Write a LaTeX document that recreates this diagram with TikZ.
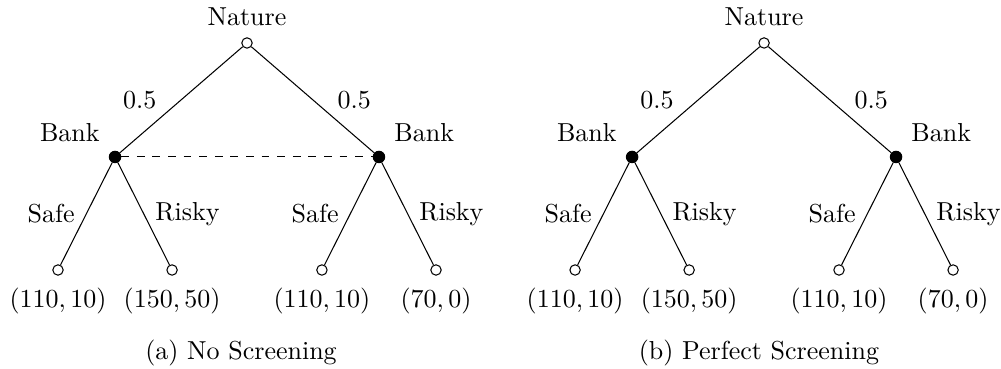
\documentclass[tikz,border=0pt]{standalone}

\tikzset{
  chancenode/.style={circle, draw, fill=white, inner sep=0pt, minimum size=4pt},
  banknode/.style={circle, draw, fill=black, inner sep=0pt, minimum size=4.4pt},
}

\begin{document}
\begin{tikzpicture}[label distance=1pt]
\useasboundingbox (0,0) rectangle (13.532,-4.988);

% (a) no screening
\node[chancenode, label=above:Nature] (na) at (3.339,-0.581) {};
\node[banknode, label=above left:Bank] (ba1) at (1.555,-2.122) {};
\node[banknode, label=above right:Bank] (ba2) at (5.123,-2.122) {};
\node[chancenode, label={below:$(110,10)$}] (la1) at (0.784,-3.650) {};
\node[chancenode, label={below:$(150,50)$}] (la2) at (2.326,-3.650) {};
\node[chancenode, label={below:$(110,10)$}] (la3) at (4.352,-3.650) {};
\node[chancenode, label={below:$(70,0)$}] (la4) at (5.894,-3.650) {};

\draw (na) -- node[left=6pt] (pa1) {0.5} (ba1);
\draw (na) -- node[right=6pt] (pa2) {0.5} (ba2);
\draw (ba1) -- node[left=1pt] (sa1) {Safe} (la1);
\draw (ba1) -- node[right=1pt] (ra1) {Risky} (la2);
\draw (ba2) -- node[left=1pt] (sa2) {Safe} (la3);
\draw (ba2) -- node[right=1pt] (ra2) {Risky} (la4);
\draw [dashed](ba1) -- (ba2);

\node (capa) at (3.258,-4.772) {(a) No Screening};

% (b) perfect screening
\node[chancenode, label=above:Nature] (nb) at (10.329,-0.581) {};
\node[banknode, label=above left:Bank] (bb1) at (8.545,-2.122) {};
\node[banknode, label=above right:Bank] (bb2) at (12.113,-2.122) {};
\node[chancenode, label={below:$(110,10)$}] (lb1) at (7.774,-3.650) {};
\node[chancenode, label={below:$(150,50)$}] (lb2) at (9.316,-3.650) {};
\node[chancenode, label={below:$(110,10)$}] (lb3) at (11.342,-3.650) {};
\node[chancenode, label={below:$(70,0)$}] (lb4) at (12.884,-3.650) {};

\draw (nb) -- node[left=6pt] (pb1) {0.5} (bb1);
\draw (nb) -- node[right=6pt] (pb2) {0.5} (bb2);
\draw (bb1) -- node[left=1pt] (sb1) {Safe} (lb1);
\draw (bb1) -- node[right=1pt] (rb1) {Risky} (lb2);
\draw (bb2) -- node[left=1pt] (sb2) {Safe} (lb3);
\draw (bb2) -- node[right=1pt] (rb2) {Risky} (lb4);

\node (capb) at (10.260,-4.772) {(b) Perfect Screening};

\end{tikzpicture}
\end{document}
